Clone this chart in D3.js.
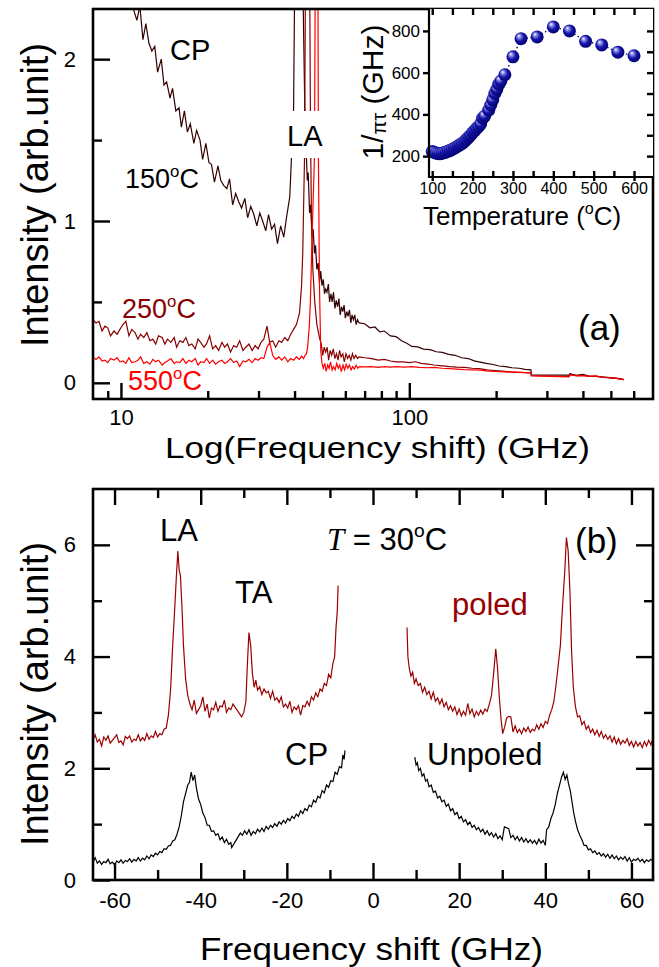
<!DOCTYPE html>
<html lang="en">
<head>
<meta charset="utf-8">
<title>Brillouin spectra</title>
<script src="https://cdn.jsdelivr.net/npm/d3@7"></script>
<style>
  body { margin: 0; background: #fff; }
  svg { display: block; }
</style>
</head>
<body>
<script>

// ---- panel (a): [frequency GHz, intensity] ----
var spec150 = [
 [10.3,2.6],[10.57,2.48],[10.83,2.44],[11.09,2.3],[11.36,2.24],[11.63,2.33],[11.92,2.12],[12.2,2.22],[12.5,2.1],[12.8,2.05],
 [13.1,2.08],[13.4,1.92],[13.8,2.0],[14.1,1.84],[14.4,1.86],[14.8,1.76],[15.1,1.82],[15.5,1.68],[15.9,1.7],[16.2,1.58],
 [16.6,1.68],[17.0,1.55],[17.4,1.6],[17.9,1.48],[18.3,1.56],[18.8,1.5],[19.2,1.38],[19.7,1.48],[20.2,1.36],[20.6,1.35],
 [21.1,1.24],[21.7,1.34],[22.2,1.25],[22.7,1.22],[23.3,1.2],[23.8,1.26],[24.4,1.1],[25.0,1.17],[25.6,1.12],[26.2,1.08],
 [26.9,1.14],[27.5,1.02],[28.2,1.09],[28.9,1.04],[29.6,0.97],[30.3,1.05],[31.0,1.0],[31.8,0.94],[32.5,1.04],[33.3,0.95],
 [34.1,0.98],[34.9,0.86],[35.8,0.97],[36.7,0.9],[37.5,1.02],[38.5,1.15],[39.0,1.38],[39.7,1.7],[40.0,2.4],[40.5,3.5],
 [41.3,4.0],[42.2,3.5],[42.8,2.4],[43.5,1.6],[44.0,1.38],[44.3,1.25],[44.6,1.3],[45.1,1.05],[45.5,1.1],[46.0,0.9],
 [46.4,0.95],[46.9,0.8],[47.3,0.85],[47.8,0.7],[48.3,0.74],[48.8,0.62],[49.3,0.69],[49.8,0.6],[50.3,0.64],[50.8,0.55],
 [51.3,0.58],[51.8,0.56],[52.4,0.61],[52.9,0.5],[53.5,0.55],[54.0,0.5],[54.6,0.56],[55.2,0.46],[55.8,0.51],[56.4,0.47],
 [57.0,0.52],[57.6,0.42],[58.2,0.47],[58.8,0.44],[59.4,0.48],[60.0,0.4],[60.7,0.44],[61.3,0.41],[62.0,0.45],[62.7,0.37],
 [63.3,0.42],[64.0,0.39],[64.7,0.42],[65.4,0.36],[66.1,0.39],[67,0.37],[70,0.365],[73,0.34],[76,0.345],[79,0.315],
 [82,0.32],[86,0.29],[90,0.285],[94,0.26],[98,0.245],[102,0.225],[107,0.222],[112,0.208],[118,0.205],[124,0.192],
 [130,0.188],[137,0.176],[144,0.17],[152,0.155],[160,0.15],[168,0.136],[176,0.128],[185,0.12],[195,0.113],[205,0.104],
 [216,0.1],[227,0.093],[240,0.09],[252,0.083],[264,0.08],[265,0.05],[358,0.048],[360,0.056],[380,0.046],[400,0.052],
 [420,0.041],[444,0.04],[470,0.036],[500,0.03],[530,0.026],[555,0.02]
];

var spec250 = [
 [8.0,0.39],[8.19,0.37],[8.39,0.38],[8.6,0.32],[8.8,0.35],[9.0,0.34],[9.2,0.29],[9.46,0.32],[9.7,0.3],[9.92,0.33],
 [10.16,0.36],[10.4,0.38],[10.66,0.29],[10.9,0.33],[11.2,0.31],[11.45,0.27],[11.7,0.3],[12.0,0.28],[12.3,0.31],[12.6,0.26],
 [12.9,0.27],[13.2,0.24],[13.5,0.29],[13.9,0.28],[14.2,0.24],[14.5,0.27],[14.9,0.25],[15.3,0.28],[15.6,0.22],[16.0,0.26],
 [16.4,0.25],[16.8,0.28],[17.2,0.23],[17.6,0.24],[18.1,0.21],[18.5,0.27],[18.9,0.25],[19.4,0.22],[19.8,0.24],[20.3,0.29],
 [20.8,0.21],[21.3,0.23],[21.8,0.2],[22.4,0.25],[22.9,0.22],[23.4,0.24],[24.0,0.19],[24.6,0.23],[25.2,0.22],[25.8,0.26],
 [26.5,0.2],[27.1,0.22],[27.8,0.24],[28.5,0.2],[29.2,0.23],[29.9,0.21],[30.6,0.25],[31.3,0.27],[32.1,0.35],[32.8,0.25],
 [33.6,0.26],[34.4,0.22],[35.3,0.26],[36.1,0.25],[37.0,0.28],[37.9,0.26],[38.8,0.3],[39.7,0.33],[40.6,0.36],[41.6,0.43],
 [42.3,0.6],[42.7,0.8],[43.3,1.38],[43.8,3.0],[44.4,4.0],[45.0,3.0],[45.4,1.6],[45.8,1.0],[46.3,0.7],[47.0,0.5],
 [47.8,0.36],[48.8,0.28],[49.5,0.24],[50.1,0.17],[50.7,0.22],[51.3,0.19],[51.9,0.22],[52.5,0.14],[53.2,0.2],[53.8,0.17],
 [54.5,0.21],[55.2,0.15],[55.9,0.18],[56.6,0.14],[57.3,0.2],[58.0,0.16],[58.8,0.18],[59.5,0.13],[60.3,0.18],[61.1,0.15],
 [61.9,0.17],[62.7,0.14],[63.5,0.18],[64.3,0.15],[65.2,0.17],[66.1,0.15],[67,0.16],[70,0.155],[74,0.15],[78,0.14],
 [82,0.145],[86,0.135],[90,0.13],[95,0.13],[100,0.125],[105,0.13],[110,0.12],[116,0.115],[122,0.11],[130,0.105],
 [138,0.1],[146,0.097],[155,0.095],[165,0.09],[175,0.088],[186,0.08],[198,0.076],[210,0.072],[223,0.068],[237,0.065],
 [250,0.063],[264,0.062],[265,0.045],[358,0.04],[360,0.05],[380,0.045],[400,0.048],[420,0.04],[444,0.04],[470,0.035],
 [500,0.032],[530,0.026],[555,0.02]
];

var spec550 = [
 [8.0,0.16],[8.19,0.145],[8.39,0.16],[8.6,0.135],[8.8,0.14],[9.0,0.125],[9.2,0.15],[9.46,0.14],[9.7,0.155],[9.92,0.13],
 [10.16,0.135],[10.4,0.12],[10.66,0.155],[10.9,0.125],[11.2,0.13],[11.45,0.14],[11.7,0.16],[12.0,0.12],[12.3,0.13],[12.6,0.115],
 [12.9,0.145],[13.2,0.13],[13.5,0.14],[13.9,0.11],[14.2,0.125],[14.5,0.135],[14.9,0.15],[15.3,0.12],[15.6,0.13],[16.0,0.125],
 [16.4,0.15],[16.8,0.12],[17.2,0.14],[17.6,0.13],[18.1,0.15],[18.5,0.11],[18.9,0.13],[19.4,0.125],[19.8,0.15],[20.3,0.12],
 [20.8,0.14],[21.3,0.115],[21.8,0.13],[22.4,0.14],[22.9,0.12],[23.4,0.13],[24.0,0.15],[24.6,0.125],[25.2,0.135],[25.8,0.1],
 [26.5,0.135],[27.1,0.13],[27.8,0.145],[28.5,0.125],[29.2,0.15],[29.9,0.14],[30.6,0.155],[31.3,0.15],[32.1,0.22],[32.8,0.25],
 [33.6,0.17],[34.4,0.145],[35.3,0.16],[36.1,0.14],[37.0,0.16],[37.9,0.13],[38.8,0.15],[39.7,0.14],[40.6,0.16],[41.6,0.145],
 [42.3,0.165],[43.0,0.15],[43.5,0.17],[44.0,0.18],[44.4,0.22],[45.0,0.35],[45.4,0.51],[46.0,0.9],[46.9,1.4],[47.3,3.0],
 [47.7,4.0],[48.1,3.0],[48.4,1.4],[48.8,0.6],[49.3,0.2],[49.8,0.12],[50.3,0.09],[50.9,0.12],[51.5,0.07],[52.1,0.11],
 [52.7,0.09],[53.3,0.13],[54.0,0.08],[54.6,0.1],[55.3,0.08],[56.0,0.12],[56.7,0.09],[57.4,0.11],[58.1,0.07],[58.9,0.11],
 [59.6,0.08],[60.4,0.115],[61.2,0.09],[62.0,0.11],[62.8,0.08],[63.6,0.1],[64.5,0.085],[65.4,0.11],[66.3,0.09],[67.2,0.1],
 [70,0.098],[74,0.1],[78,0.095],[82,0.1],[86,0.097],[90,0.1],[96,0.097],[102,0.1],[108,0.095],[115,0.093],
 [122,0.095],[130,0.09],[138,0.088],[146,0.085],[155,0.082],[165,0.08],[176,0.078],[188,0.072],[200,0.07],[214,0.068],
 [228,0.066],[245,0.064],[264,0.062],[265,0.043],[358,0.037],[360,0.05],[380,0.043],[400,0.045],[420,0.04],[444,0.043],
 [470,0.033],[500,0.03],[530,0.027],[555,0.02]
];

// inset: relaxation rate vs temperature
var tempC  = [100,105,110,115,120,125,130,135,140,145,150,155,160,165,170,175,180,185,190,195,200,205,210,215,220,225,230,240,245,250,255,260,265,270,280,300,320,360,400,440,480,520,560,600];
var invTau = [222,218,214,212,212,214,217,220,224,228,233,238,244,250,256,262,270,280,290,300,312,322,333,342,355,382,392,420,445,470,500,520,545,560,590,676,763,771,819,800,750,733,698,681];

// ---- panel (b): [frequency shift GHz, intensity] ----
var poledL = [
 [-65,2.5],[-64.5,2.6],[-64,2.47],[-63.5,2.52],[-63,2.4],[-62.5,2.56],[-62,2.5],[-61.5,2.58],[-61,2.45],[-60.5,2.5],
 [-60,2.55],[-59.5,2.6],[-59,2.46],[-58.5,2.49],[-58,2.42],[-57.5,2.57],[-57,2.53],[-56.5,2.58],[-56,2.47],[-55.5,2.52],
 [-55,2.5],[-54.5,2.6],[-54,2.49],[-53.5,2.55],[-53,2.5],[-52.5,2.62],[-52,2.52],[-51.5,2.58],[-51,2.55],[-50.5,2.66],
 [-50,2.56],[-49.5,2.62],[-49,2.6],[-48.5,2.7],[-48,2.72],[-47.5,2.95],[-47,3.4],[-46.5,4.2],[-46,4.9],[-45.6,5.5],
 [-45.3,5.89],[-45,5.55],[-44.7,5.45],[-44.3,4.8],[-44,4.2],[-43.5,3.6],[-43,3.3],[-42.5,3.15],[-42,3.05],[-41.5,3.22],
 [-41,2.98],[-40.5,3.05],[-40,3.12],[-39.5,3.28],[-39,3.02],[-38.5,3.15],[-38,2.9],[-37.5,3.08],[-37,3.05],[-36.5,3.18],
 [-36,3.02],[-35.5,3.12],[-35,3.1],[-34.5,3.22],[-34,3.0],[-33.5,3.08],[-33,3.05],[-32.5,3.15],[-30.5,2.92],[-30,3.0],
 [-29.5,3.2],[-29.2,3.8],[-28.8,4.43],[-28.4,4.2],[-28,3.7],[-27.6,3.45],[-27.2,3.58],[-26.8,3.4],[-26.3,3.46],[-25.8,3.32],
 [-25.3,3.42],[-24.8,3.35],[-24.3,3.38],[-23.8,3.25],[-23.3,3.38],[-22.8,3.22],[-22.3,3.26],[-21.8,3.18],[-21.3,3.28],[-20.8,3.1],
 [-20.3,3.15],[-19.8,3.08],[-19.3,3.2],[-18.8,3.0],[-18.3,3.1],[-17.8,3.05],[-17.3,3.12],[-16.8,2.95],[-16.3,3.12],[-15.8,3.1],
 [-15.3,3.2],[-14.8,3.12],[-14.3,3.28],[-13.8,3.22],[-13.3,3.35],[-12.8,3.28],[-12.3,3.42],[-11.8,3.38],[-11.3,3.52],[-10.8,3.48],
 [-10.3,3.68],[-9.8,3.62],[-9.3,3.88],[-8.9,4.0],[-8.6,4.5],[-8.3,4.8],[-8.1,5.27]
];
var poledR = [
 [7.9,4.52],[8.1,4.0],[8.4,3.8],[8.8,3.65],[9.2,3.72],[9.6,3.52],[10,3.6],[10.5,3.48],[11,3.52],[11.5,3.36],
 [12,3.45],[12.5,3.32],[13,3.38],[13.5,3.24],[14,3.36],[14.5,3.2],[15,3.26],[15.5,3.15],[16,3.24],[16.5,3.1],
 [17,3.18],[17.5,3.05],[18,3.12],[18.5,3.02],[19,3.1],[19.5,2.96],[20,3.06],[20.5,2.94],[21,3.02],[21.5,2.95],
 [22,3.16],[22.5,2.98],[23,3.06],[23.5,2.92],[24,3.02],[24.5,2.95],[25,3.04],[25.5,2.97],[26,3.06],[26.5,3.02],
 [27,3.15],[27.5,3.3],[28,3.7],[28.5,4.14],[28.9,3.8],[29.3,3.3],[29.7,2.9],[30.1,2.62],[30.6,2.75],[31,2.9],
 [31.5,2.93],[32,2.92],[32.5,2.65],[33,2.76],[33.5,2.64],[34,2.7],[34.5,2.62],[35,2.72],[35.5,2.66],[36,2.74],
 [36.5,2.64],[37,2.7],[37.5,2.67],[38,2.78],[38.5,2.7],[39,2.8],[39.5,2.73],[40,2.84],[40.5,2.8],[41,2.95],
 [41.5,3.05],[42,3.2],[42.5,3.5],[43,3.85],[43.5,4.2],[44,4.9],[44.5,5.5],[44.9,6.13],[45.3,5.9],[45.7,5.2],
 [46.1,4.1],[46.5,3.45],[47,3.1],[47.5,2.92],[48,2.94],[48.5,2.78],[49,2.84],[49.5,2.7],[50,2.76],[50.5,2.64],
 [51,2.7],[51.5,2.6],[52,2.68],[52.5,2.57],[53,2.66],[53.5,2.54],[54,2.6],[54.5,2.52],[55,2.58],[55.5,2.47],
 [56,2.56],[56.5,2.44],[57,2.53],[57.5,2.43],[58,2.5],[58.5,2.45],[59,2.53],[59.5,2.41],[60,2.48],[60.5,2.38],
 [61,2.48],[61.5,2.4],[62,2.46],[62.5,2.37],[63,2.48],[63.5,2.4],[64,2.5],[64.5,2.42],[65,2.55]
];
var unpoledL = [
 [-65,0.32],[-64.5,0.4],[-64,0.3],[-63.5,0.34],[-63,0.28],[-62.5,0.33],[-62,0.31],[-61.5,0.37],[-61,0.29],[-60.5,0.32],
 [-60,0.27],[-59.5,0.34],[-59,0.31],[-58.5,0.36],[-58,0.3],[-57.5,0.35],[-57,0.33],[-56.5,0.38],[-56,0.32],[-55.5,0.37],
 [-55,0.34],[-54.5,0.4],[-54,0.34],[-53.5,0.39],[-53,0.36],[-52.5,0.43],[-52,0.38],[-51.5,0.45],[-51,0.42],[-50.5,0.48],
 [-50,0.45],[-49.5,0.51],[-49,0.49],[-48.5,0.56],[-48,0.55],[-47.5,0.61],[-47,0.62],[-46.5,0.7],[-46,0.72],[-45.5,0.82],
 [-45,0.95],[-44.5,1.15],[-44,1.4],[-43.5,1.55],[-43,1.7],[-42.6,1.75],[-42.2,1.93],[-41.8,1.78],[-41.4,1.88],[-41,1.65],
 [-40.5,1.45],[-40,1.35],[-39.5,1.2],[-39,1.12],[-38.5,0.98],[-38,0.98],[-37.5,0.87],[-37,0.88],[-36.5,0.8],[-36,0.83],
 [-35.5,0.72],[-35,0.77],[-34.5,0.67],[-34,0.73],[-33.5,0.64],[-33,0.67],[-32.8,0.58],[-30.8,0.84],[-30.3,0.8],[-29.8,0.88],
 [-29.3,0.82],[-28.8,0.9],[-28.3,0.8],[-27.8,0.87],[-27.3,0.83],[-26.8,0.91],[-26.3,0.86],[-25.8,0.93],[-25.3,0.87],[-24.8,0.96],
 [-24.3,0.91],[-23.8,0.98],[-23.3,0.94],[-22.8,1.01],[-22.3,0.96],[-21.8,1.04],[-21.3,1.0],[-20.8,1.07],[-20.3,1.02],[-19.8,1.1],
 [-19.3,1.06],[-18.8,1.14],[-18.3,1.1],[-17.8,1.18],[-17.3,1.14],[-16.8,1.24],[-16.3,1.19],[-15.8,1.28],[-15.3,1.24],[-14.8,1.34],
 [-14.3,1.31],[-13.8,1.43],[-13.3,1.39],[-12.8,1.5],[-12.3,1.47],[-11.8,1.6],[-11.3,1.56],[-10.8,1.7],[-10.3,1.66],[-9.8,1.78],
 [-9.3,1.76],[-8.8,1.93],[-8.3,1.89],[-7.8,2.03],[-7.3,2.01],[-7.0,2.24],[-6.7,2.16],[-6.5,2.32]
];
var unpoledR = [
 [9.7,2.2],[10,2.06],[10.3,2.1],[10.6,1.96],[11,2.0],[11.4,1.86],[11.8,1.9],[12.2,1.77],[12.6,1.8],[13,1.67],
 [13.5,1.7],[14,1.57],[14.5,1.59],[15,1.47],[15.5,1.5],[16,1.4],[16.5,1.43],[17,1.32],[17.5,1.36],[18,1.24],
 [18.5,1.28],[19,1.17],[19.5,1.21],[20,1.1],[20.5,1.14],[21,1.04],[21.5,1.08],[22,0.99],[22.5,1.04],[23,0.94],
 [23.5,0.98],[24,0.9],[24.5,0.94],[25,0.86],[25.5,0.91],[26,0.82],[26.5,0.88],[27,0.8],[27.5,0.85],[28,0.77],
 [28.5,0.83],[29,0.74],[29.5,0.79],[30,0.72],[30.5,0.95],[31.5,0.92],[32,0.76],[32.5,0.8],[33,0.72],[33.5,0.78],
 [34,0.7],[34.5,0.76],[35,0.68],[35.5,0.74],[36,0.67],[36.5,0.72],[37,0.66],[37.5,0.71],[38,0.64],[38.5,0.73],
 [39,0.66],[39.5,0.71],[40,0.62],[40.3,0.9],[40.8,0.95],[41.3,1.1],[41.8,1.2],[42.3,1.35],[42.8,1.55],[43.3,1.7],
 [43.8,1.85],[44.2,1.93],[44.6,1.8],[45,1.88],[45.4,1.72],[45.8,1.6],[46.2,1.4],[46.6,1.2],[47,1.05],[47.5,0.9],
 [48,0.8],[48.5,0.72],[49,0.62],[49.5,0.62],[50,0.54],[50.5,0.56],[51,0.49],[51.5,0.52],[52,0.46],[52.5,0.49],
 [53,0.43],[53.5,0.47],[54,0.41],[54.5,0.46],[55,0.39],[55.5,0.45],[56,0.38],[56.5,0.43],[57,0.36],[57.5,0.41],
 [58,0.37],[58.5,0.42],[59,0.34],[59.5,0.4],[60,0.32],[60.5,0.37],[61,0.35],[61.5,0.39],[62,0.33],[62.5,0.37],
 [63,0.31],[63.5,0.36],[64,0.33],[64.5,0.37],[65,0.34]
];

var ticksA_x = [10, 100];
var minorA_x = [9, 20, 30, 40, 50, 60, 70, 80, 90, 200, 300, 400, 500, 600];
var ticksB_x = [-60, -40, -20, 0, 20, 40, 60];
var minorB_x = [-50, -30, -10, 10, 30, 50];

var w = 659, h = 967;
var font = "'Liberation Sans', Arial, sans-serif";

var svg = d3.select("body").append("svg")
  .attr("width", w).attr("height", h)
  .attr("font-family", font);

//Scales
var xA = d3.scaleLog().domain([8, 700]).range([93, 653]);
var yA = d3.scaleLinear().domain([-0.1, 2.31]).range([399, 9]);
var xB = d3.scaleLinear().domain([-65, 65]).range([93, 653]);
var yB = d3.scaleLinear().domain([0, 7]).range([880, 489]);
var xI = d3.scaleLinear().domain([92, 647]).range([429, 653]);
var yI = d3.scaleLinear().domain([100, 905]).range([177, 9]);

var defs = svg.append("defs");
defs.append("clipPath").attr("id", "clipA").append("rect")
  .attr("x", 93).attr("y", 9).attr("width", 560).attr("height", 390);
defs.append("clipPath").attr("id", "clipB").append("rect")
  .attr("x", 93).attr("y", 489).attr("width", 560).attr("height", 391);
var grad = defs.append("radialGradient").attr("id", "ball")
  .attr("cx", "45%").attr("cy", "45%").attr("r", "60%").attr("fx", "32%").attr("fy", "28%");
grad.append("stop").attr("offset", "0%").attr("stop-color", "#ffffff");
grad.append("stop").attr("offset", "22%").attr("stop-color", "#8c8ce6");
grad.append("stop").attr("offset", "55%").attr("stop-color", "#1414a8");
grad.append("stop").attr("offset", "100%").attr("stop-color", "#00006a");

function styleAxis(g, size) {
  g.attr("font-family", font).attr("font-size", size);
  g.select(".domain").remove();
  g.selectAll(".tick line").attr("stroke", "#000").attr("stroke-width", 2.4);
  g.selectAll(".tick text").attr("fill", "#000");
}

function degText(g, x, y, before, after, size, color) {
  var t = g.append("text").attr("x", x).attr("y", y)
    .attr("font-size", size).attr("fill", color);
  t.append("tspan").text(before);
  t.append("tspan").attr("font-size", size * 0.62).attr("dy", -size * 0.42).text("o");
  t.append("tspan").attr("dy", size * 0.42).text(after);
  return t;
}

// ================= panel (a) =================
var lineA = d3.line().x(function(d) { return xA(d[0]); }).y(function(d) { return yA(d[1]); });
var gA = svg.append("g").attr("clip-path", "url(#clipA)");
[[spec150, "#330000"], [spec250, "#880000"], [spec550, "#ff0000"]].forEach(function(s) {
  gA.append("path").datum(s[0]).attr("d", lineA)
    .attr("fill", "none").attr("stroke", s[1]).attr("stroke-width", 1.2);
});

// white box behind LA label
svg.append("rect").attr("x", 284).attr("y", 111).attr("width", 42).attr("height", 47).attr("fill", "#fff");
svg.append("text").attr("x", 287).attr("y", 146).attr("font-size", 29).text("LA");
svg.append("text").attr("x", 170).attr("y", 60).attr("font-size", 29).text("CP");
degText(svg, 125, 188, "150", "C", 27, "#000");
degText(svg, 122, 318, "250", "C", 27, "#880000");
degText(svg, 128, 390, "550", "C", 27, "#ff0000");
svg.append("text").attr("x", 578).attr("y", 340).attr("font-size", 35).text("(a)");

// axes (a)
svg.append("g").attr("transform", "translate(93,0)")
  .call(d3.axisLeft(yA).tickValues([0, 1, 2]).tickSize(-17).tickPadding(17).tickFormat(d3.format("d")))
  .call(styleAxis, 22);
svg.append("g").attr("transform", "translate(93,0)")
  .call(d3.axisLeft(yA).tickValues([0.5, 1.5]).tickSize(-9).tickFormat(""))
  .call(styleAxis, 22);
svg.append("g").attr("transform", "translate(0,399)")
  .call(d3.axisBottom(xA).tickValues(ticksA_x).tickSize(-16).tickPadding(10).tickFormat(d3.format("d")))
  .call(styleAxis, 22);
svg.append("g").attr("transform", "translate(0,399)")
  .call(d3.axisBottom(xA).tickValues(minorA_x).tickSize(-8).tickFormat(""))
  .call(styleAxis, 22);

svg.append("rect").attr("x", 93).attr("y", 9).attr("width", 560).attr("height", 390)
  .attr("fill", "none").attr("stroke", "#000").attr("stroke-width", 2.6);

svg.append("text").attr("transform", "translate(48,195) rotate(-90)")
  .attr("text-anchor", "middle").attr("font-size", 38).text("Intensity (arb.unit)");
svg.append("text").attr("x", 165).attr("y", 458).attr("font-size", 29)
  .attr("textLength", 425).attr("lengthAdjust", "spacingAndGlyphs")
  .text("Log(Frequency shift) (GHz)");

// ================= inset =================
svg.append("rect").attr("x", 429).attr("y", 9).attr("width", 224).attr("height", 168).attr("fill", "#fff");
var lineI = d3.line().x(function(d, i) { return xI(tempC[i]); }).y(function(d) { return yI(d); });
svg.append("path").datum(invTau).attr("d", lineI)
  .attr("fill", "none").attr("stroke", "#000080").attr("stroke-width", 1.3).attr("stroke-dasharray", "1.5,2.5");
svg.append("g").selectAll("circle").data(invTau).enter().append("circle")
  .attr("cx", function(d, i) { return xI(tempC[i]); })
  .attr("cy", function(d) { return yI(d); })
  .attr("r", 6.5).attr("fill", "url(#ball)");

svg.append("g").attr("transform", "translate(429,0)")
  .call(d3.axisLeft(yI).tickValues([200, 400, 600, 800]).tickSize(6).tickPadding(3))
  .call(styleAxis, 17);
svg.append("g").attr("transform", "translate(653,0)")
  .call(d3.axisRight(yI).tickValues([200, 300, 400, 500, 600, 700, 800]).tickSize(-6).tickFormat(""))
  .call(styleAxis, 17);
svg.append("g").attr("transform", "translate(0,177)")
  .call(d3.axisBottom(xI).tickValues([100, 200, 300, 400, 500, 600]).tickSize(4).tickPadding(2))
  .call(styleAxis, 16);
svg.append("g").attr("transform", "translate(0,177)")
  .call(d3.axisBottom(xI).tickValues([100, 150, 200, 250, 300, 350, 400, 450, 500, 550, 600]).tickSize(-6).tickFormat(""))
  .call(styleAxis, 16);
svg.append("g").attr("transform", "translate(0,9)")
  .call(d3.axisTop(xI).tickValues([100, 150, 200, 250, 300, 350, 400, 450, 500, 550, 600]).tickSize(-6).tickFormat(""))
  .call(styleAxis, 16);
svg.append("path").attr("d", "M429,9V177H653").attr("fill", "none").attr("stroke", "#000").attr("stroke-width", 2.2);

var ty = svg.append("text").attr("transform", "translate(383,92) rotate(-90)")
  .attr("text-anchor", "middle").attr("font-size", 30);
ty.append("tspan").text("1/");
ty.append("tspan").attr("font-size", 20).attr("dy", 3).text("πτ");
ty.append("tspan").attr("dy", -3).text(" (GHz)");
degText(svg, 423, 225, "Temperature (", "C)", 26, "#000");

// ================= panel (b) =================
var lineB = d3.line().x(function(d) { return xB(d[0]); }).y(function(d) { return yB(d[1]); });
var gB = svg.append("g").attr("clip-path", "url(#clipB)");
[[unpoledL, "#000"], [unpoledR, "#000"], [poledL, "#990000"], [poledR, "#990000"]].forEach(function(s) {
  gB.append("path").datum(s[0]).attr("d", lineB)
    .attr("fill", "none").attr("stroke", s[1]).attr("stroke-width", 1.2);
});

svg.append("g").attr("transform", "translate(93,0)")
  .call(d3.axisLeft(yB).tickValues([0, 2, 4, 6]).tickSize(-17).tickPadding(17).tickFormat(d3.format("d")))
  .call(styleAxis, 22);
svg.append("g").attr("transform", "translate(93,0)")
  .call(d3.axisLeft(yB).tickValues([1, 3, 5]).tickSize(-9).tickFormat(""))
  .call(styleAxis, 22);
svg.append("g").attr("transform", "translate(653,0)")
  .call(d3.axisRight(yB).tickValues([2, 4, 6]).tickSize(-17).tickFormat(""))
  .call(styleAxis, 22);
svg.append("g").attr("transform", "translate(653,0)")
  .call(d3.axisRight(yB).tickValues([1, 3, 5]).tickSize(-9).tickFormat(""))
  .call(styleAxis, 22);
svg.append("g").attr("transform", "translate(0,880)")
  .call(d3.axisBottom(xB).tickValues(ticksB_x).tickSize(-17).tickPadding(12).tickFormat(function(d) { return String(d); }))
  .call(styleAxis, 22);
svg.append("g").attr("transform", "translate(0,880)")
  .call(d3.axisBottom(xB).tickValues(minorB_x).tickSize(-10).tickFormat(""))
  .call(styleAxis, 22);
svg.append("g").attr("transform", "translate(0,489)")
  .call(d3.axisTop(xB).tickValues(ticksB_x).tickSize(-16).tickFormat(""))
  .call(styleAxis, 22);
svg.append("g").attr("transform", "translate(0,489)")
  .call(d3.axisTop(xB).tickValues(minorB_x).tickSize(-9).tickFormat(""))
  .call(styleAxis, 22);

svg.append("rect").attr("x", 93).attr("y", 489).attr("width", 560).attr("height", 391)
  .attr("fill", "none").attr("stroke", "#000").attr("stroke-width", 2.6);

svg.append("text").attr("x", 160).attr("y", 541).attr("font-size", 31).text("LA");
svg.append("text").attr("x", 235).attr("y", 603).attr("font-size", 31).text("TA");
var tt = svg.append("text").attr("x", 327).attr("y", 550).attr("font-size", 31);
tt.append("tspan").attr("font-family", "'Liberation Serif', 'Times New Roman', serif")
  .attr("font-style", "italic").text("T");
tt.append("tspan").text(" = 30");
tt.append("tspan").attr("font-size", 31 * 0.62).attr("dy", -13).text("o");
tt.append("tspan").attr("dy", 13).text("C");
svg.append("text").attr("x", 575).attr("y", 553).attr("font-size", 35).text("(b)");
svg.append("text").attr("x", 452).attr("y", 615).attr("font-size", 31).attr("fill", "#990000").text("poled");
svg.append("text").attr("x", 285).attr("y", 765).attr("font-size", 31).text("CP");
svg.append("text").attr("x", 427).attr("y", 765).attr("font-size", 31).text("Unpoled");

svg.append("text").attr("transform", "translate(48,694) rotate(-90)")
  .attr("text-anchor", "middle").attr("font-size", 38).text("Intensity (arb.unit)");
svg.append("text").attr("x", 200).attr("y", 960).attr("font-size", 31)
  .attr("textLength", 343).attr("lengthAdjust", "spacingAndGlyphs")
  .text("Frequency shift (GHz)");

</script>
</body>
</html>
